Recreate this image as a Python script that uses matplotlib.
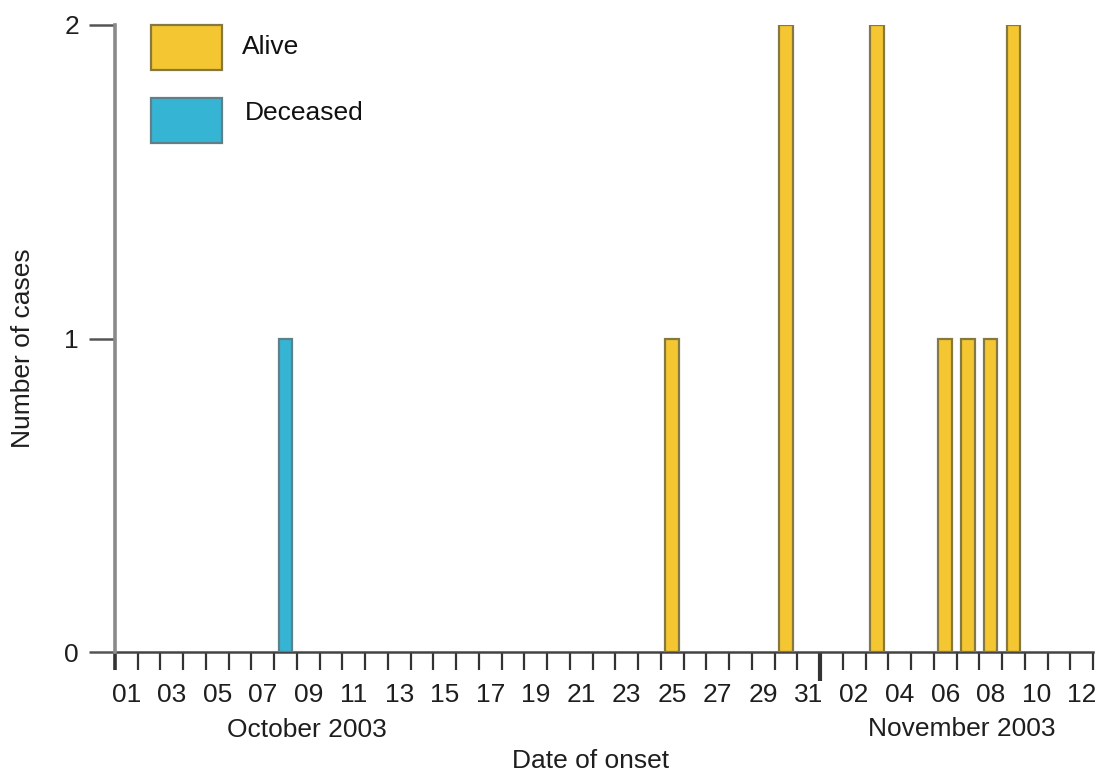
import matplotlib
matplotlib.use("Agg")
import matplotlib.pyplot as plt
from matplotlib.patches import Rectangle
import pandas as pd

plt.rcParams['font.family'] = ['Liberation Sans', 'DejaVu Sans']

# ---- data ----
start_date = "2003-10-01"
end_date = "2003-11-12"
alive_dates = ["2003-10-25", "2003-10-30", "2003-11-03", "2003-11-06",
               "2003-11-07", "2003-11-08", "2003-11-09"]
alive_counts = [1, 2, 2, 1, 1, 1, 2]
deceased_dates = ["2003-10-08"]
deceased_counts = [1]
oct_labels = ["01", "03", "05", "07", "09", "11", "13", "15", "17", "19",
              "21", "23", "25", "27", "29", "31"]
nov_labels = ["02", "04", "06", "08", "10", "12"]
y_ticks = [0, 1, 2]
legend_labels = ["Alive", "Deceased"]

ALIVE_C = "#F3C632"
ALIVE_E = "#857840"
DEAD_C = "#36B4D4"
DEAD_E = "#5F7F89"
TXT = "#1e1e1e"
FS = 19

W, H = 1101, 772
fig = plt.figure(figsize=(W / 100, H / 100), dpi=100)
ax = fig.add_axes([115 / W, 1 - 652 / H, (1093 - 115) / W, (652 - 25) / H])

t0 = pd.Timestamp(start_date)
ndays = (pd.Timestamp(end_date) - t0).days + 1


def center(d):
    return (pd.Timestamp(d) - t0).days + 0.5


bw = 0.6
ax.bar([center(d) for d in alive_dates], alive_counts, width=bw,
       color=ALIVE_C, edgecolor=ALIVE_E, linewidth=1.6, zorder=3)
ax.bar([center(d) for d in deceased_dates], deceased_counts, width=bw,
       color=DEAD_C, edgecolor=DEAD_E, linewidth=1.6, zorder=3)

ax.set_xlim(0, ndays)
ax.set_ylim(0, 2)

for s in ["top", "right"]:
    ax.spines[s].set_visible(False)
ax.spines["left"].set_color("#8a8a8a")
ax.spines["left"].set_linewidth(2.6)
ax.spines["bottom"].set_color("#444444")
ax.spines["bottom"].set_linewidth(1.8)
ax.spines["left"].set_zorder(4)

# x ticks: boundaries (major, unlabeled) and labeled day centers (minor)
ax.set_xticks(range(0, ndays + 1))
ax.set_xticklabels([])
ax.tick_params(axis="x", which="major", length=13, width=1.6, color="#333333",
               direction="out")
lab_pos, lab_txt = [], []
for l in oct_labels:
    lab_pos.append(center("2003-10-" + l))
    lab_txt.append(l)
for l in nov_labels:
    lab_pos.append(center("2003-11-" + l))
    lab_txt.append(l)
ax.set_xticks(lab_pos, minor=True)
ax.set_xticklabels(lab_txt, minor=True)
ax.tick_params(axis="x", which="minor", length=0, pad=22, labelsize=FS,
               labelcolor=TXT)

# month boundary tick
month_idx = (pd.Timestamp("2003-11-01") - t0).days
mt = ax.xaxis.get_major_ticks()[month_idx]
mt.tick1line.set_markersize(21)
mt.tick1line.set_markeredgewidth(3)
mt.tick1line.set_color("#111111")
first = ax.xaxis.get_major_ticks()[0]
first.tick1line.set_color("#8a8a8a")
first.tick1line.set_markeredgewidth(2.6)

ax.set_yticks(y_ticks)
ax.set_yticklabels([str(v) for v in y_ticks])
ax.tick_params(axis="y", length=19, width=1.8, color="#555555", pad=7,
               labelsize=FS, labelcolor=TXT)

# axis labels
fig.text(591 / W, 1 - 761 / H, "Date of onset", ha="center", va="center",
         fontsize=FS, color=TXT)
fig.text(23 / W, 1 - 348 / H, "Number of cases", ha="center", va="center",
         rotation=90, fontsize=FS, color=TXT)
fig.text(307 / W, 1 - 730 / H, "October 2003", ha="center", va="center",
         fontsize=FS, color=TXT)
fig.text(962 / W, 1 - 729 / H, "November 2003", ha="center", va="center",
         fontsize=FS, color=TXT)

# legend
for (y0, y1), fc, ec, lab, tx, ty in [((25, 70), ALIVE_C, ALIVE_E, legend_labels[0], 242, 47),
                                      ((98, 143), DEAD_C, DEAD_E, legend_labels[1], 245, 113)]:
    fig.add_artist(Rectangle((151 / W, 1 - y1 / H), 71 / W, (y1 - y0) / H,
                             transform=fig.transFigure, facecolor=fc,
                             edgecolor=ec, linewidth=1.6))
    fig.text(tx / W, 1 - ty / H, lab, ha="left", va="center",
             fontsize=FS, color="#111111")

fig.savefig("out.png", dpi=100)
